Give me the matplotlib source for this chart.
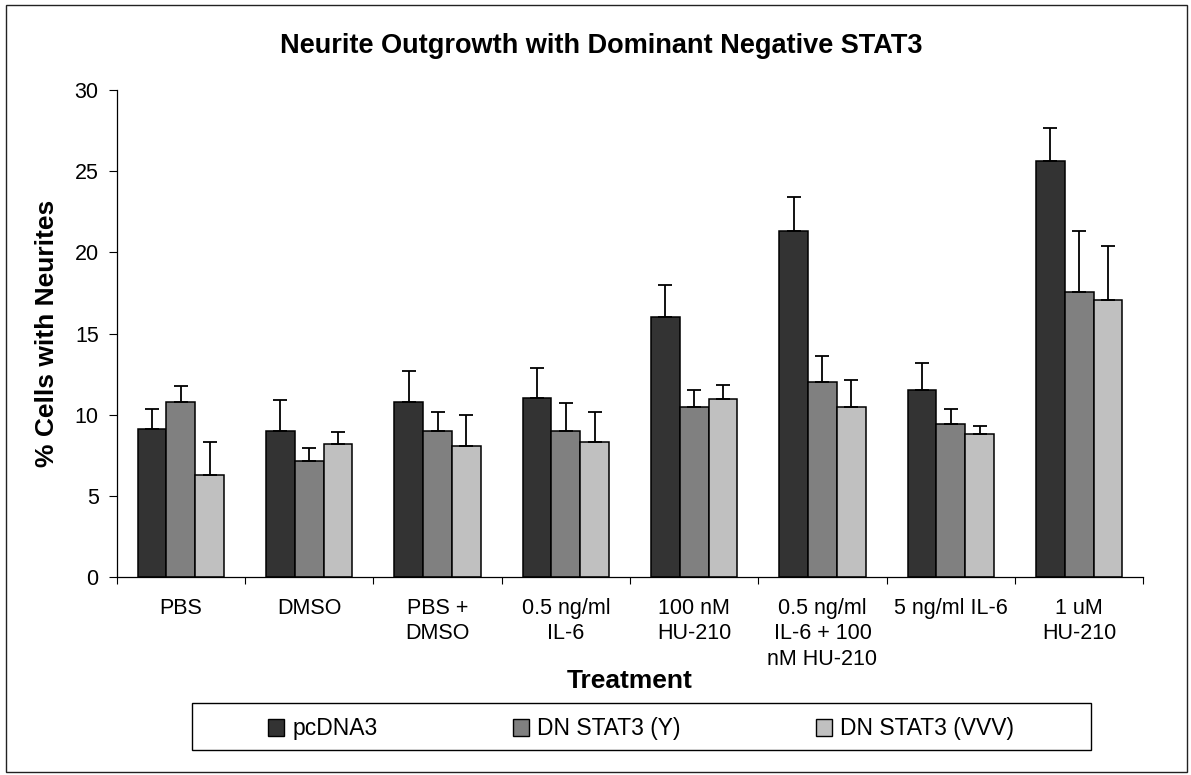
import matplotlib
matplotlib.use("Agg")
import matplotlib.pyplot as plt
from matplotlib.patches import Rectangle, Patch
import numpy as np

plt.rcParams['font.family'] = ['Liberation Sans', 'DejaVu Sans']

categories = ["PBS", "DMSO", "PBS +\nDMSO", "0.5 ng/ml\nIL-6", "100 nM\nHU-210",
              "0.5 ng/ml\nIL-6 + 100\nnM HU-210", "5 ng/ml IL-6", "1 uM\nHU-210"]
series_names = ["pcDNA3", "DN STAT3 (Y)", "DN STAT3 (VVV)"]
pcdna3 = [9.13, 9.01, 10.80, 11.00, 16.00, 21.33, 11.52, 25.62]
dn_y = [10.80, 7.14, 9.01, 9.01, 10.45, 12.03, 9.42, 17.56]
dn_vvv = [6.29, 8.17, 8.06, 8.29, 10.96, 10.45, 8.80, 17.05]
err_pcdna3 = [1.23, 1.89, 1.89, 1.90, 2.00, 2.09, 1.66, 2.08]
err_y = [0.94, 0.82, 1.15, 1.69, 1.07, 1.58, 0.93, 3.77]
err_vvv = [2.00, 0.76, 1.89, 1.87, 0.87, 1.68, 0.52, 3.35]
colors = ["#333333", "#808080", "#c0c0c0"]
yticks = [0, 5, 10, 15, 20, 25, 30]

W, H = 1191, 775
fig = plt.figure(figsize=(W / 100, H / 100), dpi=100)
fig.patch.set_facecolor("white")

TICK_FS = 15.5

# calibrate line spacing so that multi-line labels step ~27.5 px
fig.canvas.draw()
rend = fig.canvas.get_renderer()
_t1 = fig.text(0.5, 0.5, "A", fontsize=TICK_FS)
_t2 = fig.text(0.5, 0.5, "A\nA", fontsize=TICK_FS, linespacing=1.0)
_step = _t2.get_window_extent(rend).height - _t1.get_window_extent(rend).height
_t1.remove()
_t2.remove()
line_sp = 27.5 / _step if _step > 0 else 1.2

left, right, bottom, top = 116.7, 1143.3, 576.7, 90.3
ax = fig.add_axes([left / W, 1 - bottom / H, (right - left) / W, (bottom - top) / H])

x = np.arange(len(categories))
bw = 0.225
vals = [pcdna3, dn_y, dn_vvv]
errs = [err_pcdna3, err_y, err_vvv]
for i, (v, e, c) in enumerate(zip(vals, errs, colors)):
    pos = x + (i - 1) * bw
    ax.bar(pos, v, width=bw, color=c, edgecolor="black", linewidth=1.1, zorder=2)
    ax.errorbar(pos, v, yerr=[np.zeros(len(e)), e], fmt="none", ecolor="black",
                elinewidth=1.3, capsize=4.8, capthick=1.3, zorder=3)

ax.set_xlim(-0.5, len(categories) - 0.5)
ax.set_ylim(0, 30)
ax.set_yticks(yticks)
ax.set_yticklabels([str(t) for t in yticks], fontsize=TICK_FS)
ax.tick_params(axis="y", direction="out", length=5.5, width=0.8, pad=7.5, colors="black")
ax.set_xticks(x)
ax.set_xticklabels(categories, fontsize=TICK_FS, linespacing=line_sp, multialignment="center")
ax.tick_params(axis="x", which="major", length=0, pad=15)
ax.set_xticks(np.arange(len(categories) + 1) - 0.5, minor=True)
ax.tick_params(axis="x", which="minor", direction="out", length=5, width=0.8)
for s in ["top", "right"]:
    ax.spines[s].set_visible(False)
for s in ["left", "bottom"]:
    ax.spines[s].set_linewidth(0.9)

fig.text(601.5 / W, 1 - 53 / H, "Neurite Outgrowth with Dominant Negative STAT3",
         ha="center", va="baseline", fontsize=19.5, fontweight="bold")
fig.text(47 / W, 1 - 333.5 / H, "% Cells with Neurites", rotation=90,
         ha="center", va="center", fontsize=19, fontweight="bold")
fig.text(630 / W, 1 - 688 / H, "Treatment", ha="center", va="baseline",
         fontsize=19, fontweight="bold")

handles = [Patch(facecolor=c, edgecolor="black", linewidth=1.0) for c in colors]
leg = fig.legend(handles, series_names, loc="center", bbox_to_anchor=(641 / W, 1 - 729 / H),
                 ncol=3, frameon=False, fontsize=16.5, handlelength=0.7, handleheight=0.7,
                 handletextpad=0.35, columnspacing=5.9)
fig.add_artist(Rectangle((192 / W, 1 - 750 / H), (1091 - 192) / W, (750 - 703) / H,
                         transform=fig.transFigure, facecolor="none", edgecolor="black",
                         linewidth=1.0))
# outer chart-area border
fig.add_artist(Rectangle((5.5 / W, 1 - 771.5 / H), (1186.5 - 5.5) / W, (771.5 - 4.5) / H,
                         transform=fig.transFigure, facecolor="none", edgecolor="#222222",
                         linewidth=1.0))

fig.savefig("out.png", dpi=100, facecolor="white")
